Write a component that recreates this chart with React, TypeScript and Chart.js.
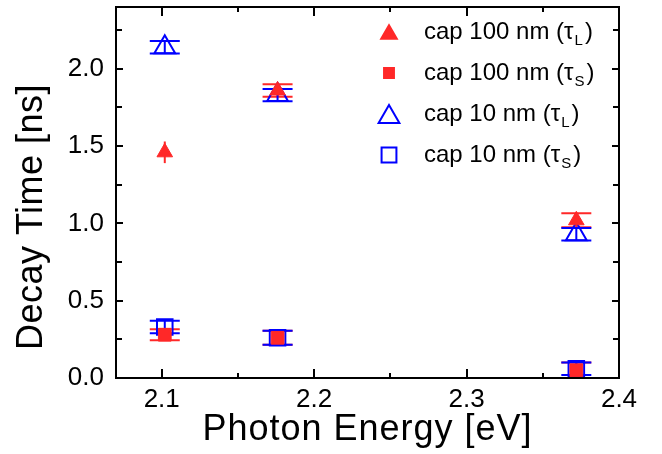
import React, { useEffect, useRef } from 'react';
import { Chart, registerables } from 'chart.js';
Chart.register(...registerables);

const energies = [2.102, 2.176, 2.372];
const tauL100 = [1.46, 1.86, 1.02];
const tauL100Err = [0.07, 0.04, 0.045];
const tauS100 = [0.28, 0.26, 0.05];
const tauS100Err = [0.035, 0.045, 0.05];
const tauL10 = [2.14, 1.83, 0.93];
const tauL10Err = [0.04, 0.04, 0.04];
const tauS10 = [0.33, 0.26, 0.06];
const tauS10Err = [0.04, 0.045, 0.04];

const xMajorTicks = [2.1, 2.2, 2.3, 2.4];
const xMinorTicks = [2.15, 2.25, 2.35];
const yMajorTicks = [0, 0.5, 1.0, 1.5, 2.0];
const yMinorTicks = [0.25, 0.75, 1.25, 1.75, 2.25];

const xTitle = 'Photon Energy [eV]';
const yTitle = 'Decay Time [ns]';
const legendLabels = ['cap 100 nm', 'cap 100 nm', 'cap 10 nm', 'cap 10 nm'];
const legendSubs = ['L', 'S', 'L', 'S'];

const RED = 'rgb(255,40,40)';
const BLUE = 'rgb(0,0,255)';
const FONT = "'Liberation Sans', Arial, sans-serif";

function pts(ys: number[]) {
  return energies.map((x, i) => ({ x, y: ys[i] }));
}

function drawMarker(ctx: CanvasRenderingContext2D, style: string, x: number, y: number, r: number, fill: string | null, stroke: string, lw: number) {
  ctx.beginPath();
  if (style === 'triangle') {
    ctx.moveTo(x, y - r);
    ctx.lineTo(x + r * Math.sin(Math.PI / 3), y + r / 2);
    ctx.lineTo(x - r * Math.sin(Math.PI / 3), y + r / 2);
    ctx.closePath();
  } else {
    const s = r * Math.SQRT1_2;
    ctx.rect(x - s, y - s, 2 * s, 2 * s);
  }
  if (fill) {
    ctx.fillStyle = fill;
    ctx.fill();
  }
  ctx.lineWidth = lw;
  ctx.strokeStyle = stroke;
  ctx.stroke();
}

const errorBarPlugin = {
  id: 'errorBars',
  beforeDatasetsDraw(chart: any) {
    const ctx = chart.ctx;
    const xs = chart.scales.x;
    const ys = chart.scales.y;
    ctx.save();
    chart.data.datasets.forEach((ds: any) => {
      const errs: number[] = ds.errors;
      const noCap: number[] = ds.noCapIndices || [];
      ds.data.forEach((p: any, i: number) => {
        const px = xs.getPixelForValue(p.x);
        const yTop = ys.getPixelForValue(p.y + errs[i]);
        const yBot = ys.getPixelForValue(p.y - errs[i]);
        ctx.strokeStyle = ds.borderColor;
        ctx.lineWidth = 2;
        ctx.beginPath();
        ctx.moveTo(px, yTop);
        ctx.lineTo(px, yBot);
        if (!noCap.includes(i)) {
          ctx.moveTo(px - 15, yTop);
          ctx.lineTo(px + 15, yTop);
          ctx.moveTo(px - 15, yBot);
          ctx.lineTo(px + 15, yBot);
        }
        ctx.stroke();
      });
    });
    ctx.restore();
  },
};

const framePlugin = {
  id: 'frame',
  afterDraw(chart: any) {
    const ctx = chart.ctx;
    const { left, right, top, bottom } = chart.chartArea;
    const xs = chart.scales.x;
    const ys = chart.scales.y;
    ctx.save();
    ctx.strokeStyle = '#000';
    ctx.lineWidth = 2;
    ctx.strokeRect(left, top, right - left, bottom - top);
    ctx.beginPath();
    const xt = (v: number, len: number) => {
      const px = Math.round(xs.getPixelForValue(v));
      ctx.moveTo(px, bottom);
      ctx.lineTo(px, bottom - len);
      ctx.moveTo(px, top);
      ctx.lineTo(px, top + len);
    };
    const yt = (v: number, len: number) => {
      const py = Math.round(ys.getPixelForValue(v));
      ctx.moveTo(left, py);
      ctx.lineTo(left + len, py);
      ctx.moveTo(right, py);
      ctx.lineTo(right - len, py);
    };
    xMajorTicks.forEach((v) => xt(v, 9));
    xMinorTicks.forEach((v) => xt(v, 5));
    yMajorTicks.forEach((v) => yt(v, 7));
    yMinorTicks.forEach((v) => yt(v, 6));
    ctx.stroke();

    // axis titles
    ctx.fillStyle = '#000';
    ctx.textAlign = 'center';
    ctx.textBaseline = 'middle';
    (ctx as any).letterSpacing = '1px';
    ctx.font = `36px ${FONT}`;
    ctx.fillText(xTitle, (left + right) / 2, 430);
    ctx.save();
    ctx.translate(32, 217);
    ctx.rotate(-Math.PI / 2);
    (ctx as any).letterSpacing = '0.5px';
    ctx.fillText(yTitle, 0, 0);
    ctx.restore();
    (ctx as any).letterSpacing = '0px';

    // legend
    const lx = 389;
    const tx = 424;
    const y0 = 32;
    const dy = 41;
    chart.data.datasets.forEach((ds: any, i: number) => {
      const y = y0 + dy * i;
      const filled = ds.backgroundColor !== 'rgba(0,0,0,0)';
      const r = ds.pointStyle === 'triangle' ? (filled ? 9 : 12) : (filled ? 7 : 10.5);
      const my = ds.pointStyle === 'triangle' ? y + r / 4 : y;
      drawMarker(ctx, ds.pointStyle, lx, my, r, filled ? ds.backgroundColor : null, ds.borderColor, 2);
      ctx.fillStyle = '#000';
      ctx.textBaseline = 'middle';
      ctx.textAlign = 'left';
      ctx.font = `24px ${FONT}`;
      const main = legendLabels[i] + ' (\u03c4';
      ctx.fillText(main, tx, y);
      const w = ctx.measureText(main).width;
      ctx.font = `15px ${FONT}`;
      ctx.fillText(legendSubs[i], tx + w + 1, y + 9);
      const sw = ctx.measureText(legendSubs[i]).width;
      ctx.font = `24px ${FONT}`;
      ctx.fillText(')', tx + w + sw + 3, y);
    });
    ctx.restore();
  },
};

export default function App() {
  const ref = useRef<HTMLCanvasElement | null>(null);
  useEffect(() => {
    if (!ref.current) return;
    const chart = new Chart(ref.current, {
      type: 'scatter',
      data: {
        datasets: [
          {
            label: 'cap 100 nm (τL)',
            data: pts(tauL100),
            errors: tauL100Err,
            noCapIndices: [0],
            pointStyle: 'triangle',
            radius: 9,
            backgroundColor: RED,
            borderColor: RED,
            borderWidth: 1,
          } as any,
          {
            label: 'cap 100 nm (τS)',
            data: pts(tauS100),
            errors: tauS100Err,
            pointStyle: 'rect',
            radius: 9,
            backgroundColor: RED,
            borderColor: RED,
            borderWidth: 1,
          } as any,
          {
            label: 'cap 10 nm (τL)',
            data: pts(tauL10),
            errors: tauL10Err,
            pointStyle: 'triangle',
            radius: 12,
            backgroundColor: 'rgba(0,0,0,0)',
            borderColor: BLUE,
            borderWidth: 2,
          } as any,
          {
            label: 'cap 10 nm (τS)',
            data: pts(tauS10),
            errors: tauS10Err,
            pointStyle: 'rect',
            radius: 11,
            backgroundColor: 'rgba(0,0,0,0)',
            borderColor: BLUE,
            borderWidth: 2,
          } as any,
        ],
      },
      options: {
        animation: false,
        responsive: false,
        maintainAspectRatio: false,
        layout: { autoPadding: false, padding: { top: 7, right: 43, left: 0, bottom: 0 } },
        plugins: { legend: { display: false }, tooltip: { enabled: false } },
        scales: {
          x: {
            type: 'linear',
            min: 2.07,
            max: 2.4,
            afterBuildTicks: (s: any) => {
              s.ticks = xMajorTicks.map((v) => ({ value: v }));
            },
            afterFit: (s: any) => {
              s.height = 76;
              s.paddingLeft = 0;
              s.paddingRight = 0;
            },
            grid: { display: false, drawTicks: false },
            border: { display: false },
            ticks: {
              autoSkip: false,
              maxRotation: 0,
              padding: 6,
              color: '#000',
              font: { family: FONT, size: 26 },
              callback: (v: any) => Number(v).toFixed(1),
            },
            title: { display: false },
          },
          y: {
            type: 'linear',
            min: 0,
            max: 2.4,
            afterBuildTicks: (s: any) => {
              s.ticks = yMajorTicks.map((v) => ({ value: v }));
            },
            afterFit: (s: any) => {
              s.width = 116;
              s.paddingTop = 0;
              s.paddingBottom = 0;
            },
            grid: { display: false, drawTicks: false },
            border: { display: false },
            ticks: {
              autoSkip: false,
              padding: 12,
              color: '#000',
              font: { family: FONT, size: 26 },
              callback: (v: any) => Number(v).toFixed(1),
            },
            title: { display: false },
          },
        },
      } as any,
      plugins: [errorBarPlugin, framePlugin],
    });
    return () => chart.destroy();
  }, []);
  return (
    <div style={{ position: 'fixed', left: 0, top: 0, width: 662, height: 454, background: '#fff' }}>
      <canvas ref={ref} width={662} height={454} style={{ width: 662, height: 454 }} />
    </div>
  );
}
